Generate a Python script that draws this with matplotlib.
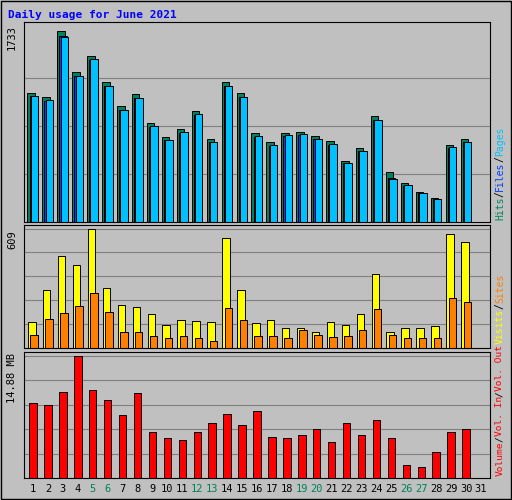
import matplotlib
matplotlib.use("Agg")
import matplotlib.pyplot as plt
import numpy as np

days = list(range(1, 32))
hits = [1167,1131,1733,1359,1505,1268,1049,1158,894,766,839,1003,748,1268,1167,803,720,803,812,775,730,556,666,958,456,356,274,219,693,748,0]
files = [1140,1100,1680,1320,1470,1230,1010,1120,860,740,810,970,720,1230,1130,770,690,780,790,750,700,530,640,920,400,330,260,205,670,720,0]
pages = [1145,1105,1678,1325,1475,1235,1015,1125,865,745,815,975,725,1235,1135,775,695,785,795,755,705,535,645,925,392,335,265,208,675,725,0]
visits = [132,294,467,421,609,304,218,208,172,117,142,137,132,563,294,127,142,101,101,81,132,117,172,375,81,101,101,112,583,543,0]
sites = [66,147,177,213,279,182,81,81,61,51,61,51,35,203,142,61,61,51,91,66,56,61,91,198,66,51,51,51,254,233,0]
volume = [9.15,8.9,10.5,14.88,10.7,9.5,7.7,10.4,5.6,4.9,4.6,5.6,6.7,7.8,6.5,8.2,5.0,4.9,5.2,6.0,4.4,6.7,5.2,7.1,4.9,1.6,1.3,3.2,5.6,5.9,0]
weekend = {5,6,12,13,19,20,26,27}

W, H = 512, 500
fig = plt.figure(figsize=(W/100, H/100), dpi=100)
fig.patch.set_facecolor('#C0C0C0')
mono = 'DejaVu Sans Mono'

def mk(top, bot):
    ax = fig.add_axes([24/W, 1-bot/H, 466/W, (bot-top)/H])
    ax.set_facecolor('#C0C0C0')
    ax.set_xlim(0.4, 31.6)
    ax.set_xticks([])
    ax.tick_params(left=False, labelleft=False)
    for s in ax.spines.values():
        s.set_color('black'); s.set_linewidth(0.8)
    ax.set_axisbelow(True)
    return ax

x = np.array(days)
ax1 = mk(22, 222)
ax1.set_ylim(0, 1733*1.045)
for yv in np.linspace(0, 1733, 5)[1:-1]:
    ax1.axhline(yv, color='#808080', lw=0.8, zorder=0)
ax1.bar(x-0.12, hits, 0.5, color='#00805C', edgecolor='black', lw=0.7)
ax1.bar(x+0.02, files, 0.5, color='#0040FF', edgecolor='black', lw=0.7)
ax1.bar(x+0.1, pages, 0.5, color='#00C0FF', edgecolor='black', lw=0.7)
fig.text(12/W, 1-38/H, '1733', rotation=90, fontsize=7.5, family=mono, va='center', ha='center')

ax2 = mk(225, 348)
ax2.set_ylim(0, 609*1.03)
for yv in np.linspace(0, 609, 6)[1:]:
    ax2.axhline(yv, color='#808080', lw=0.8, zorder=0)
ax2.bar(x-0.08, visits, 0.5, color='#FFFF00', edgecolor='black', lw=0.7)
ax2.bar(x+0.08, sites, 0.5, color='#FF8000', edgecolor='black', lw=0.7)
fig.text(12/W, 1-240/H, '609', rotation=90, fontsize=7.5, family=mono, va='center', ha='center')

ax3 = mk(352, 478)
ax3.set_ylim(0, 14.88*1.03)
for yv in np.linspace(0, 14.88, 6)[1:]:
    ax3.axhline(yv, color='#808080', lw=0.8, zorder=0)
ax3.bar(x, volume, 0.5, color='#FF0000', edgecolor='black', lw=0.7)
fig.text(12/W, 1-378/H, '14.88 MB', rotation=90, fontsize=7.5, family=mono, va='center', ha='center')

for d in days:
    xf = (24 + (d-0.4)/31.2*466)/W
    fig.text(xf, 1-489/H, str(d), fontsize=7.5, family=mono, ha='center', va='center',
             color='#00805C' if d in weekend else 'black')

fig.text(8/W, 1-15/H, 'Daily usage for June 2021', fontsize=8, family=mono,
         fontweight='bold', color='#0000FF', va='center')

def side(y_bottom, parts, fs=7.0):
    y = y_bottom
    step = fs * 0.6 * 100 / 72 * 1.0
    for txt, col in parts:
        fig.text(500/W, 1-y/H, txt, rotation=90, fontsize=fs, family=mono,
                 color=col, ha='center', va='bottom')
        y -= len(txt)*step
side(220, [('Hits', '#00805C'), ('/', 'black'), ('Files', '#0040FF'), ('/', 'black'), ('Pages', '#00C0FF')])
side(344, [('Visits', '#FFFF00'), ('/', 'black'), ('Sites', '#FF8000')])
side(476, [('Volume', '#FF0000'), ('/', 'black'), ('Vol. In', '#FF0000'), ('/', 'black'), ('Vol. Out', '#FF0000')], fs=6.8)

fig.add_artist(plt.Rectangle((0.002, 0.002), 0.996, 0.996, transform=fig.transFigure,
                             fill=False, ec='black', lw=1))
fig.savefig('out.png', dpi=100, facecolor=fig.get_facecolor())
